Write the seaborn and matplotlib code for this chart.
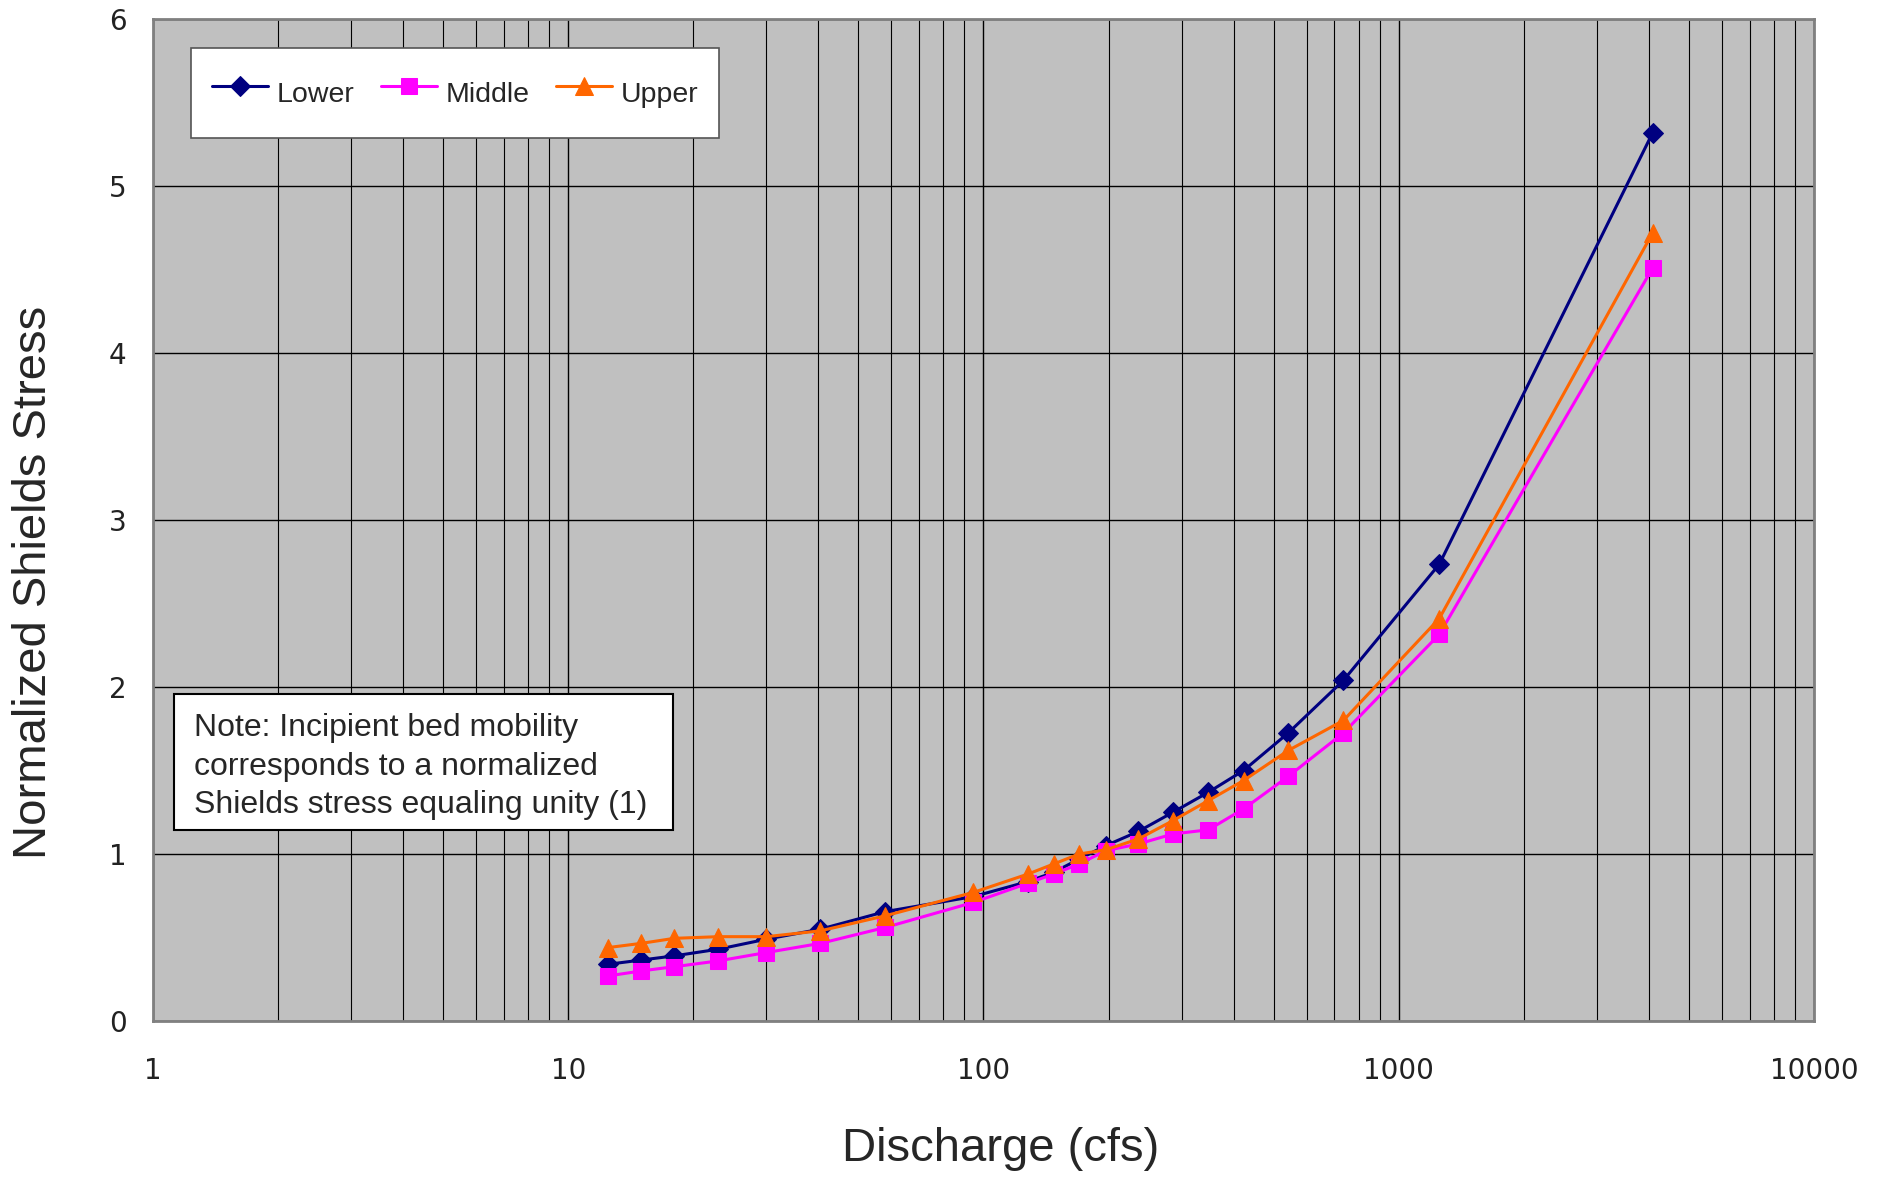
import numpy as np
import pandas as pd
import matplotlib
matplotlib.use('Agg')
import matplotlib.pyplot as plt
import matplotlib.ticker as mticker
from matplotlib.patches import Rectangle
import seaborn as sns

# Discharge values (cfs) and normalized Shields stress per reach
discharge = [12.5, 15, 18, 23, 30, 40.5, 58, 94.5, 128, 147.5, 170, 197, 236,
             286, 348, 423, 542, 736, 1252, 4090]
lower = [0.34, 0.365, 0.39, 0.43, 0.49, 0.55, 0.655, 0.745, 0.835, 0.89, 0.97,
         1.05, 1.135, 1.25, 1.37, 1.50, 1.725, 2.04, 2.735, 5.32]
middle = [0.27, 0.30, 0.325, 0.36, 0.41, 0.465, 0.56, 0.71, 0.825, 0.88, 0.94,
          1.02, 1.06, 1.12, 1.145, 1.27, 1.465, 1.725, 2.315, 4.51]
upper = [0.44, 0.465, 0.495, 0.505, 0.505, 0.54, 0.63, 0.77, 0.88, 0.94, 1.0,
         1.025, 1.09, 1.20, 1.32, 1.44, 1.62, 1.80, 2.41, 4.72]

y_ticks = [0, 1, 2, 3, 4, 5, 6]
x_ticks = [1, 10, 100, 1000, 10000]
note = ("Note: Incipient bed mobility\n"
        "corresponds to a normalized\n"
        "Shields stress equaling unity (1)")

df = pd.DataFrame({'Discharge': discharge, 'Lower': lower,
                   'Middle': middle, 'Upper': upper})

sns.set_style('white')
plt.rcParams['font.family'] = ['Liberation Sans', 'DejaVu Sans']

fig = plt.figure(figsize=(18.77, 11.77), dpi=100)
ax = fig.add_axes([153 / 1877, 1 - 1021 / 1177, 1661 / 1877, 1002 / 1177])
ax.set_facecolor('#C0C0C0')

series = [('Lower', '#000080', 'D', 10), ('Middle', '#FF00FF', 's', 11),
          ('Upper', '#FF6600', '^', 13)]
for name, color, marker, ms in series:
    sns.lineplot(data=df, x='Discharge', y=name, ax=ax, color=color,
                 marker=marker, markersize=ms, markeredgecolor=color,
                 linewidth=2.2, label=name, zorder=3)

ax.set_xscale('log')
ax.set_xlim(1, 10000)
ax.set_ylim(0, 6)
ax.set_xticks(x_ticks)
ax.xaxis.set_major_formatter(mticker.FuncFormatter(lambda v, p: f'{v:g}'))
ax.xaxis.set_minor_locator(mticker.LogLocator(base=10, subs=np.arange(2, 10)))
ax.xaxis.set_minor_formatter(mticker.NullFormatter())
ax.set_yticks(y_ticks)

ax.grid(True, which='major', axis='both', color='black', linewidth=1)
ax.grid(True, which='minor', axis='x', color='black', linewidth=0.8)
ax.set_axisbelow(True)

for s in ax.spines.values():
    s.set_color('#808080')
    s.set_linewidth(2)

ax.tick_params(which='major', direction='out', length=9, width=1,
               color='#333333', labelsize=20, labelcolor='#222222')
ax.tick_params(which='minor', length=0)
ax.tick_params(axis='x', pad=17)
ax.tick_params(axis='y', pad=10)
for lab in ax.get_xticklabels() + ax.get_yticklabels():
    lab.set_family(['DejaVu Sans'])

ax.set_xlabel('Discharge (cfs)', fontsize=34, va='center')
ax.xaxis.set_label_coords((1001 - 153) / 1661, (1021 - 1149) / 1002)
ax.set_ylabel('Normalized Shields Stress', fontsize=34, va='center')
ax.yaxis.set_label_coords((34 - 153) / 1661, (1021 - 582) / 1002)

leg = ax.legend(loc='upper left', bbox_to_anchor=(38 / 1661, 973 / 1002),
                ncol=3, fontsize=20.5, frameon=True, fancybox=False,
                handlelength=1.95, handleheight=2.2, columnspacing=0.95,
                handletextpad=0.3, borderpad=0.75, borderaxespad=0)
leg.get_frame().set_edgecolor('#555555')
leg.get_frame().set_linewidth(1.2)
leg.get_frame().set_facecolor('white')
leg.get_frame().set_alpha(1)

# note box
ax.add_patch(Rectangle((20.5 / 1661, 191 / 1002), 499.5 / 1661, 136 / 1002,
                       transform=ax.transAxes, facecolor='white',
                       edgecolor='black', linewidth=1.5, zorder=5))
ax.text(41 / 1661, 254.5 / 1002, note, transform=ax.transAxes, fontsize=23,
        ha='left', va='center', linespacing=1.38, zorder=6)

fig.savefig('out.png', dpi=100)
plt.close(fig)
